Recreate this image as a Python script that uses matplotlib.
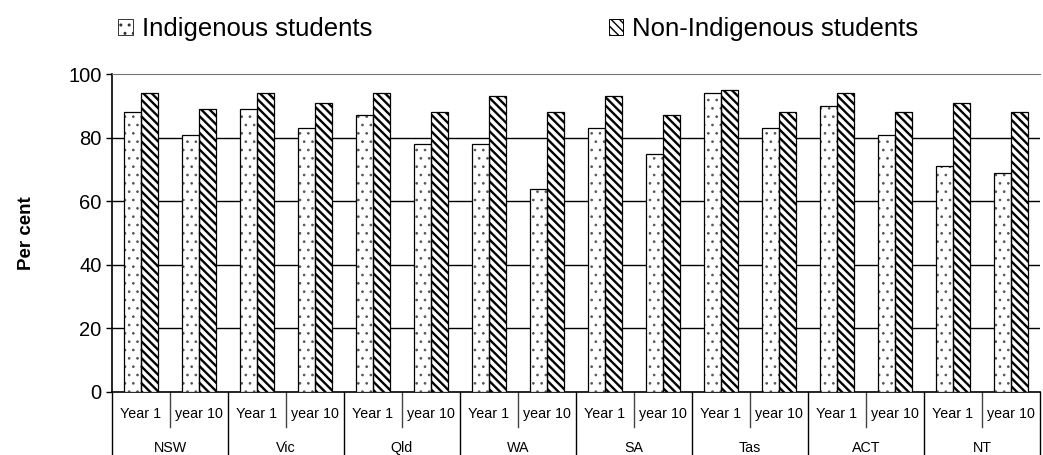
import matplotlib
matplotlib.use("Agg")
import numpy as np
import matplotlib.pyplot as plt
from matplotlib.patches import Patch
from matplotlib.transforms import blended_transform_factory

# данные с картинки
states = ["NSW", "Vic", "Qld", "WA", "SA", "Tas", "ACT", "NT"]
years = ["Year 1", "year 10"]
indigenous = [88, 81, 89, 83, 87, 78, 78, 64, 83, 75, 94, 83, 90, 81, 71, 69]
non_indigenous = [94, 89, 94, 91, 94, 88, 93, 88, 93, 87, 95, 88, 94, 88, 91, 88]

plt.rcParams["font.family"] = ["Liberation Sans", "DejaVu Sans"]

DOTS = ".."
STRIPES = "\\" * 4

fig = plt.figure(figsize=(10.43, 4.55), dpi=100)
ax = fig.add_axes([0.1074, 0.1385, 0.8896, 0.6985])

n = len(indigenous)
x = np.arange(n)
w = 0.29

# точки серые: сначала штриховка серым, потом чёрная рамка поверх
with plt.rc_context({"hatch.linewidth": 0.7}):
    ax.bar(x - w / 2, indigenous, w, color="white", edgecolor="#555555",
           hatch=DOTS, linewidth=0, zorder=3)
ax.bar(x - w / 2, indigenous, w, color="none", edgecolor="black",
       linewidth=0.9, zorder=4)
with plt.rc_context({"hatch.linewidth": 1.7}):
    ax.bar(x + w / 2, non_indigenous, w, color="white", edgecolor="black",
           hatch=STRIPES, linewidth=0.9, zorder=3)

ax.set_xlim(-0.5, n - 0.5)
ax.set_ylim(0, 100)
ax.set_yticks([0, 20, 40, 60, 80, 100])
ax.tick_params(axis="y", labelsize=14.5, length=4.5, width=1, direction="out", pad=3)
ax.set_xticks([])

# сетка
for yv in [20, 40, 60, 80]:
    ax.axhline(yv, color="black", linewidth=1, zorder=1)
ax.spines["top"].set_color("#777777")
ax.spines["right"].set_visible(False)
ax.spines["left"].set_linewidth(1.2)
ax.spines["bottom"].set_linewidth(1.2)

ax.set_ylabel("Per cent", fontsize=13.5, fontweight="bold", labelpad=24)

# двухуровневые подписи оси X
tr = blended_transform_factory(ax.transData, ax.transAxes)
for i in range(n):
    ax.text(i, -0.07, years[i % 2], transform=tr, ha="center", va="center",
            fontsize=10.3)
for j, s in enumerate(states):
    ax.text(2 * j + 0.5, -0.175, s, transform=tr, ha="center", va="center",
            fontsize=10.3)
for i in range(n + 1):
    if i % 2 == 0:
        ax.plot([i - 0.5, i - 0.5], [0, -0.2], transform=tr, color="black",
                linewidth=1, clip_on=False)
    else:
        ax.plot([i - 0.5, i - 0.5], [0, -0.11], transform=tr, color="#444444",
                linewidth=1, clip_on=False)

with plt.rc_context({"hatch.linewidth": 1.2}):
    handles = [Patch(facecolor="white", edgecolor="#333333", hatch="..", linewidth=0.7),
               Patch(facecolor="white", edgecolor="black", hatch="\\\\\\\\", linewidth=0.7)]
fig.legend(handles, ["Indigenous students", "Non-Indigenous students"],
           loc="center left", bbox_to_anchor=(0.113, 0.937), ncol=2,
           frameon=False, fontsize=18.5, handlelength=0.58, handleheight=0.58,
           handletextpad=0.35, columnspacing=9.2, borderaxespad=0, borderpad=0)

fig.savefig("out.png", dpi=100)
